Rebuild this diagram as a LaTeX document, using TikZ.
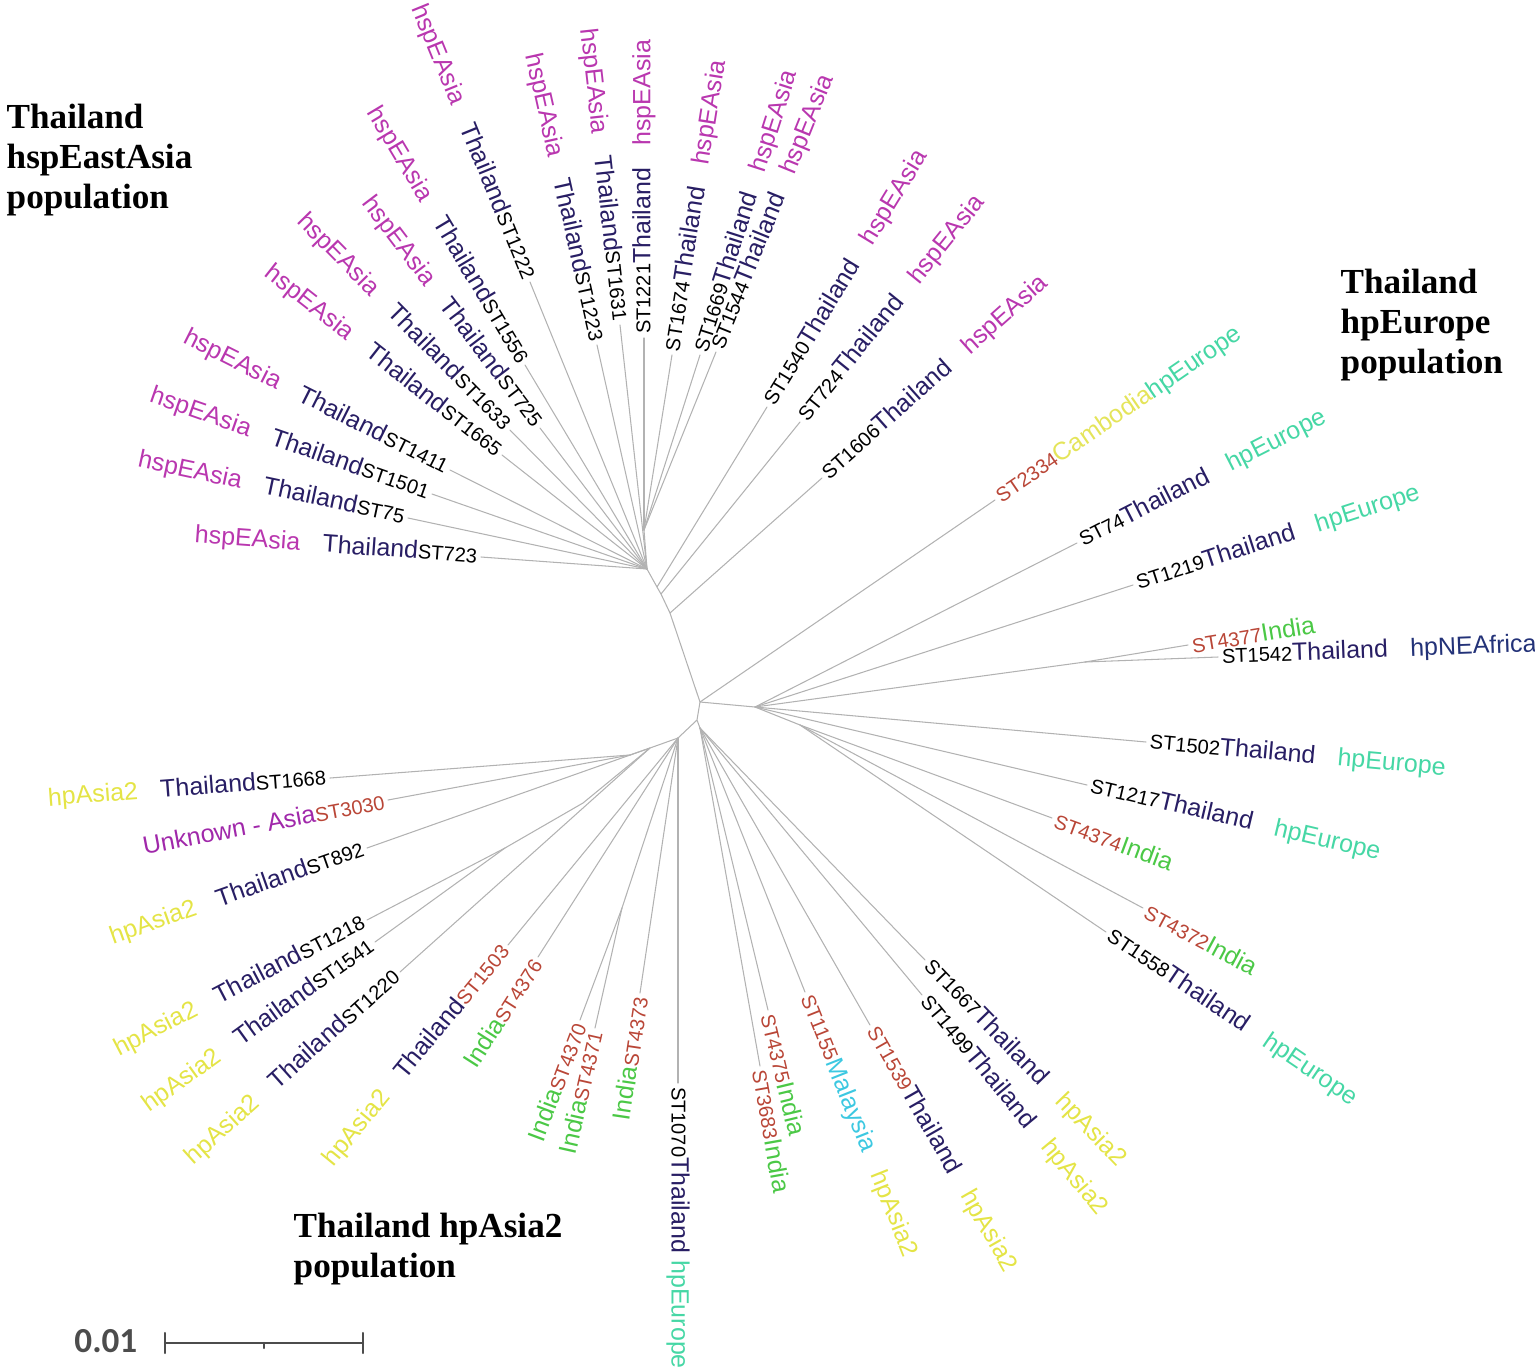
\documentclass[tikz,border=0pt]{standalone}
\usepackage{fontspec}
\setmainfont{Liberation Sans}
\newfontfamily\titlefont{Liberation Serif}
\newfontfamily\barfont{Carlito}
\definecolor{thnavy}{RGB}{40,30,100}
\definecolor{strc}{RGB}{185,70,55}
\definecolor{hspc}{RGB}{185,55,175}
\definecolor{hpec}{RGB}{70,215,165}
\definecolor{hpac}{RGB}{228,228,70}
\definecolor{indc}{RGB}{75,200,70}
\definecolor{camc}{RGB}{228,228,90}
\definecolor{malc}{RGB}{60,200,225}
\definecolor{afrc}{RGB}{35,50,120}
\definecolor{unkc}{RGB}{160,40,170}
\definecolor{branchc}{RGB}{178,178,178}
\newcommand\thai{\textcolor{thnavy}{Thailand}}
\newcommand\stb[1]{{\fontsize{5.7}{6}\selectfont#1}}
\newcommand\stred[1]{{\fontsize{5.7}{6}\selectfont\color{strc}#1}}
\newcommand\hspa{\textcolor{hspc}{hspEAsia}}
\newcommand\hpeu{\textcolor{hpec}{hpEurope}}
\newcommand\hpas{\textcolor{hpac}{hpAsia2}}
\newcommand\indi{\textcolor{indc}{India}}
\newcommand\lgap{\hspace{0.9em}}
\begin{document}
\begin{tikzpicture}[x=0.01cm,y=-0.01cm,line join=round,line cap=round,
  font=\fontsize{7.1}{8}\selectfont,
  branch/.style={draw=branchc,line width=0.3pt},
  title/.style={font=\titlefont\bfseries\fontsize{10}{11.4}\selectfont,align=left,inner sep=0pt,anchor=north west},
  scalebar/.style={draw=black!70,line width=0.6pt}]
\useasboundingbox (0,0) rectangle (1535,1369);
% internal nodes of the tree
\path
(644,530) coordinate (U0)
(647,569) coordinate (U1)
(657,587) coordinate (U2)
(661,594) coordinate (U2b)
(670,613) coordinate (U3)
(700,702) coordinate (R1)
(755,707) coordinate (R2)
(1085,662) coordinate (R3)
(800,725) coordinate (R4)
(697,720) coordinate (C1)
(700,728) coordinate (C2)
(678,738) coordinate (L1)
(650,748) coordinate (L2)
(622,908) coordinate (L3)
(630,755) coordinate (L5)
(583,803) coordinate (L6)
(505,848) coordinate (L7)
;
% leaves
\path
(481,557) coordinate (ST723) (408,518) coordinate (ST75) (432,494) coordinate (ST1501)
(450,470) coordinate (ST1411) (502,455) coordinate (ST1665) (510,430) coordinate (ST1633)
(540,428) coordinate (ST725) (525,365) coordinate (ST1556) (530,282) coordinate (ST1222)
(597,345) coordinate (ST1223) (620,325) coordinate (ST1631) (644,338) coordinate (ST1221)
(672,355) coordinate (ST1674) (700,355) coordinate (ST1669) (716,352) coordinate (ST1544)
(767,407) coordinate (ST1540) (800,422) coordinate (ST724) (822,478) coordinate (ST1606)
(995,500) coordinate (ST2334) (1077,543) coordinate (ST74) (1133,585) coordinate (ST1219)
(1188,645) coordinate (ST4377) (1218,657) coordinate (ST1542) (1146,742) coordinate (ST1502)
(1087,785) coordinate (ST1217) (1052,818) coordinate (ST4374) (1143,908) coordinate (ST4372)
(1106,932) coordinate (ST1558) (925,960) coordinate (ST1667) (922,995) coordinate (ST1499)
(870,1025) coordinate (ST1539) (805,992) coordinate (ST1155) (768,1010) coordinate (ST4375)
(760,1066) coordinate (ST3683) (678,1083) coordinate (ST1070) (640,993) coordinate (ST4373)
(595,1028) coordinate (ST4371) (580,1020) coordinate (ST4370) (538,957) coordinate (ST4376)
(508,945) coordinate (ST1503) (400,972) coordinate (ST1220) (375,942) coordinate (ST1541)
(367,920) coordinate (ST1218) (367,848) coordinate (ST892) (388,800) coordinate (ST3030)
(330,778) coordinate (ST1668)
;
\draw[branch] (U0)--(U1)--(U2)--(U2b)--(U3)--(R1)--(C1)--(L1)--(L2)--(L5)
  (R1)--(R2)--(R3) (R2)--(R4) (C1)--(C2) (L1)--(L3) (L2)--(L6)--(L7);
\foreach \p/\q/\s/\t in {
  U1/ST723/east/{\hspa\lgap\thai\stb{ST723}},
  U1/ST75/east/{\hspa\lgap\thai\stb{ST75}},
  U1/ST1501/east/{\hspa\lgap\thai\stb{ST1501}},
  U1/ST1411/east/{\hspa\lgap\thai\stb{ST1411}},
  U1/ST1665/east/{\hspa\lgap\thai\stb{ST1665}},
  U1/ST1633/east/{\hspa\lgap\thai\stb{ST1633}},
  U1/ST725/east/{\hspa\lgap\thai\stb{ST725}},
  U1/ST1556/east/{\hspa\lgap\thai\stb{ST1556}},
  U1/ST1222/east/{\hspa\lgap\thai\stb{ST1222}},
  U1/ST1223/east/{\hspa\lgap\thai\stb{ST1223}},
  U1/ST1631/east/{\hspa\lgap\thai\stb{ST1631}},
  U0/ST1221/west/{\stb{ST1221}\thai\lgap\hspa},
  U0/ST1674/west/{\stb{ST1674}\thai\lgap\hspa},
  U0/ST1669/west/{\stb{ST1669}\thai\lgap\hspa},
  U0/ST1544/west/{\stb{ST1544}\thai\lgap\hspa},
  U2/ST1540/west/{\stb{ST1540}\thai\lgap\hspa},
  U2b/ST724/west/{\stb{ST724}\thai\lgap\hspa},
  U3/ST1606/west/{\stb{ST1606}\thai\lgap\hspa},
  R1/ST2334/west/{\stred{ST2334}\textcolor{camc}{Cambodia}\hpeu},
  R2/ST74/west/{\stb{ST74}\thai\lgap\hpeu},
  R2/ST1219/west/{\stb{ST1219}\thai\lgap\hpeu},
  R3/ST4377/west/{\stred{ST4377}\indi},
  R3/ST1542/west/{\stb{ST1542}\thai\lgap\textcolor{afrc}{hpNEAfrica}},
  R2/ST1502/west/{\stb{ST1502}\thai\lgap\hpeu},
  R2/ST1217/west/{\stb{ST1217}\thai\lgap\hpeu},
  R4/ST4374/west/{\stred{ST4374}\indi},
  R4/ST4372/west/{\stred{ST4372}\indi},
  R4/ST1558/west/{\stb{ST1558}\thai\lgap\hpeu},
  C2/ST1667/west/{\stb{ST1667}\thai\lgap\hpas},
  C2/ST1499/west/{\stb{ST1499}\thai\lgap\hpas},
  C2/ST1539/west/{\stred{ST1539}\thai\lgap\hpas},
  C2/ST1155/west/{\stred{ST1155}\textcolor{malc}{Malaysia}\lgap\hpas},
  C2/ST4375/west/{\stred{ST4375}\indi},
  C2/ST3683/west/{\stred{ST3683}\indi},
  L1/ST1070/west/{\stb{ST1070}\thai\hspace{0.3em}\hpeu},
  L1/ST4373/east/{\indi\stred{ST4373}},
  L3/ST4371/east/{\indi\stred{ST4371}},
  L3/ST4370/east/{\indi\stred{ST4370}},
  L1/ST4376/east/{\indi\stred{ST4376}},
  L1/ST1503/east/{\hpas\lgap\thai\stred{ST1503}},
  L2/ST1220/east/{\hpas\lgap\thai\stb{ST1220}},
  L7/ST1541/east/{\hpas\lgap\thai\stb{ST1541}},
  L7/ST1218/east/{\hpas\lgap\thai\stb{ST1218}},
  L2/ST892/east/{\hpas\lgap\thai\stb{ST892}},
  L5/ST3030/east/{\textcolor{unkc}{Unknown - Asia}\stred{ST3030}},
  L5/ST1668/east/{\hpas\lgap\thai\stb{ST1668}}}
  \draw[branch] (\p)--(\q) node[pos=1,sloped,anchor=\s,inner sep=1pt] (t\q) {\t};
% population titles
\node[title] (tEA) at (6,103) {Thailand\\hspEastAsia\\population};
\node[title] (tEU) at (1340,268) {Thailand\\hpEurope\\population};
\node[title] (tA2) at (293,1212) {Thailand hpAsia2\\population};
% scale bar
\path (165,1343) coordinate (sb1) (363,1343) coordinate (sb2) (264,1343) coordinate (sbm);
\node[font=\barfont\bfseries\fontsize{10}{12}\selectfont,text=black!70,anchor=east,inner sep=0pt] (sl) at (138,1341) {0.01};
\draw[scalebar] (sb1)--(sb2) (sb1)++(0,-10)--++(0,20) (sb2)++(0,-10)--++(0,20) (sbm)--++(0,5);
\end{tikzpicture}
\end{document}
